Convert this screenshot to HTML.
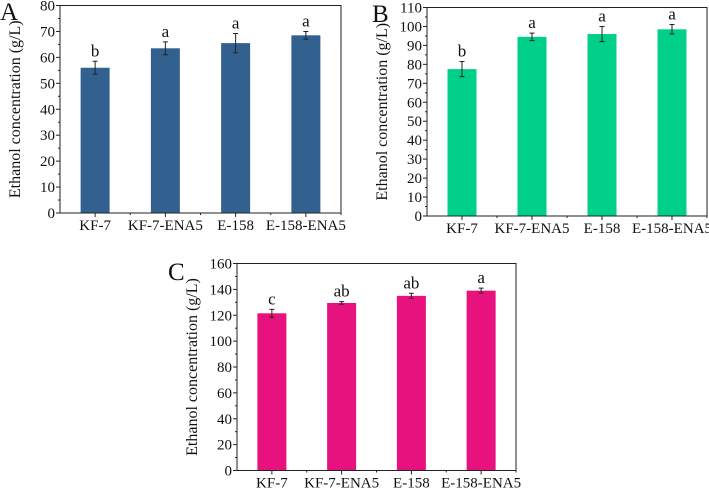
<!DOCTYPE html>
<html><head><meta charset="utf-8"><style>
html,body{margin:0;padding:0;background:#fff;}
svg{display:block;font-family:"Liberation Serif",serif;}
</style></head><body>
<svg id="fig" width="709" height="488" viewBox="0 0 709 488"></svg>
<script>
const categories = ["KF-7","KF-7-ENA5","E-158","E-158-ENA5"];
const valuesA = [56, 63.5, 65.5, 68.5];
const errorsA = [2.5, 2.5, 3.7, 1.5];
const lettersA = ["b","a","a","a"];
const ticksA = [0,10,20,30,40,50,60,70,80];
const valuesB = [77.5, 94.5, 96, 98.5];
const errorsB = [4, 2, 4, 2.5];
const lettersB = ["b","a","a","a"];
const ticksB = [0,10,20,30,40,50,60,70,80,90,100,110];
const valuesC = [121.5, 129.5, 135, 139];
const errorsC = [3, 1, 2, 2];
const lettersC = ["c","ab","ab","a"];
const ticksC = [0,20,40,60,80,100,120,140,160];

const NS="http://www.w3.org/2000/svg";
const svg=document.getElementById('fig');
function mk(tag,attrs,parent,text){const e=document.createElementNS(NS,tag);for(const k in attrs)e.setAttribute(k,attrs[k]);if(text!==undefined)e.textContent=text;(parent||svg).appendChild(e);return e;}

function panel(id,letter,lx,ly,L,T,R,B,vals,errs,lets,ticks,color){
  const g=mk('g',{});
  
  
  const ymax=ticks[ticks.length-1];
  const y=v=>B-(v/ymax)*(B-T);
  const step=(R-L)/categories.length;
  const x=i=>L+step*(i+0.5);
  const bw=29;
  vals.forEach((v,i)=>{
    const r=mk('rect',{x:x(i)-bw/2,y:y(v),width:bw,height:B-y(v),fill:color},g);
    
    
    const e=errs[i];
    const eb=mk('path',{d:`M${x(i)},${y(v+e)}V${y(v-e)}M${x(i)-2.5},${y(v+e)}H${x(i)+2.5}M${x(i)-2.5},${y(v-e)}H${x(i)+2.5}`,stroke:'#222','stroke-width':1,fill:'none'},g);
    
    
    const t=mk('text',{x:x(i),y:y(v+e)-5,'text-anchor':'middle','font-size':17,fill:'#111'},g,lets[i]);
    
    
  });
  const f=mk('rect',{x:L,y:T,width:R-L,height:B-T,fill:'none',stroke:'#222','stroke-width':1},g);
  
  
  const tstep=ticks[1]-ticks[0];
  ticks.forEach((t,i)=>{
    mk('line',{x1:L-4,x2:L,y1:y(t),y2:y(t),stroke:'#222'},g);
    if(i<ticks.length-1){const m=t+tstep/2;mk('line',{x1:L-2,x2:L,y1:y(m),y2:y(m),stroke:'#222'},g);}
    const lb=mk('text',{x:L-5,y:y(t)+5,'text-anchor':'end','font-size':15,fill:'#111'},g,t);
    
    
  });
  categories.forEach((c,i)=>{
    mk('line',{x1:x(i),x2:x(i),y1:B,y2:B+4,stroke:'#222'},g);
    mk('line',{x1:L+step*(i+1),x2:L+step*(i+1),y1:B,y2:B+2,stroke:'#222'},g);
    const lb=mk('text',{x:x(i),y:B+17,'text-anchor':'middle','font-size':15,fill:'#111'},g,c);
    
    
  });
  const yt=mk('text',{x:0,y:0,'text-anchor':'middle','font-size':16,fill:'#111',transform:`translate(${L-40},${(T+B)/2}) rotate(-90)`},g,'Ethanol concentration (g/L)');
  
  
  const pl=mk('text',{x:lx,y:ly,'font-size':25,fill:'#111'},g,letter);
  
  
}
panel('a','A',0,20,60,5.5,341,213,valuesA,errorsA,lettersA,ticksA,'#33618f');
panel('b','B',372,22,427,7.5,707,216,valuesB,errorsB,lettersB,ticksB,'#00cf89');
panel('c','C',168,280,237,263.5,516,470.5,valuesC,errorsC,lettersC,ticksC,'#e8127e');
</script>
</body></html>
